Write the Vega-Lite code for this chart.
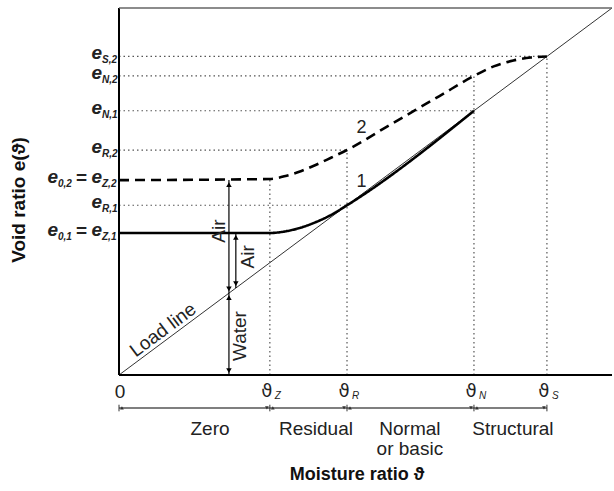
{
  "$schema": "https://vega.github.io/schema/vega-lite/v6.json",
  "width": 493,
  "height": 367,
  "autosize": "none",
  "padding": {"left": 119, "top": 8, "right": 2, "bottom": 116},
  "background": "white",
  "config": {"view": {"stroke": null}, "font": "Liberation Sans, DejaVu Sans"},
  "datasets": {
    "curves": [
      {"curve": "1", "x": 0, "y": 0.387},
      {"curve": "1", "x": 0.306, "y": 0.387},
      {"curve": "1", "x": 0.34, "y": 0.392},
      {"curve": "1", "x": 0.37, "y": 0.402},
      {"curve": "1", "x": 0.40, "y": 0.417},
      {"curve": "1", "x": 0.43, "y": 0.436},
      {"curve": "1", "x": 0.4625, "y": 0.4625},
      {"curve": "1", "x": 0.72, "y": 0.72},
      {"curve": "2", "x": 0, "y": 0.531},
      {"curve": "2", "x": 0.306, "y": 0.534},
      {"curve": "2", "x": 0.34, "y": 0.543},
      {"curve": "2", "x": 0.37, "y": 0.556},
      {"curve": "2", "x": 0.40, "y": 0.573},
      {"curve": "2", "x": 0.43, "y": 0.592},
      {"curve": "2", "x": 0.4625, "y": 0.613},
      {"curve": "2", "x": 0.55, "y": 0.682},
      {"curve": "2", "x": 0.65, "y": 0.760},
      {"curve": "2", "x": 0.72, "y": 0.815},
      {"curve": "2", "x": 0.76, "y": 0.841},
      {"curve": "2", "x": 0.80, "y": 0.857},
      {"curve": "2", "x": 0.835, "y": 0.865},
      {"curve": "2", "x": 0.868, "y": 0.868}
    ],
    "load": [{"x": 0, "y": 0}, {"x": 1, "y": 1}],
    "guides": [
      {"x": 0, "x2": 0.868, "y": 0.868, "y2": 0.868},
      {"x": 0, "x2": 0.72, "y": 0.815, "y2": 0.815},
      {"x": 0, "x2": 0.72, "y": 0.72, "y2": 0.72},
      {"x": 0, "x2": 0.4625, "y": 0.613, "y2": 0.613},
      {"x": 0, "x2": 0.4625, "y": 0.4625, "y2": 0.4625},
      {"x": 0.306, "x2": 0.306, "y": 0, "y2": 0.534},
      {"x": 0.4625, "x2": 0.4625, "y": 0, "y2": 0.613},
      {"x": 0.72, "x2": 0.72, "y": 0, "y2": 0.815},
      {"x": 0.868, "x2": 0.868, "y": 0, "y2": 0.868}
    ],
    "frame": [
      {"x": 0, "x2": 0, "y": 0, "y2": 1},
      {"x": 0, "x2": 1, "y": 0, "y2": 0}
    ],
    "topline": [{"x": 0, "x2": 1, "y": 1, "y2": 1}],
    "arrows": [
      {"x": 0.223, "y": 0, "y2": 0.531},
      {"x": 0.237, "y": 0.237, "y2": 0.387}
    ],
    "heads": [
      {"x": 0.223, "y": 0.519, "dir": "up"},
      {"x": 0.223, "y": 0.235, "dir": "down"},
      {"x": 0.223, "y": 0.211, "dir": "up"},
      {"x": 0.223, "y": 0.012, "dir": "down"},
      {"x": 0.237, "y": 0.375, "dir": "up"},
      {"x": 0.237, "y": 0.249, "dir": "down"}
    ],
    "rangebar": [{"x": 0, "x2": 0.868, "y": -0.0899}],
    "bounds": [
      {"x": 0, "y": -0.081, "y2": -0.099},
      {"x": 0.306, "y": -0.081, "y2": -0.099},
      {"x": 0.4625, "y": -0.081, "y2": -0.099},
      {"x": 0.72, "y": -0.081, "y2": -0.099},
      {"x": 0.868, "y": -0.081, "y2": -0.099}
    ],
    "rangeheads": [
      {"x": 0.006, "y": -0.0899, "dir": "left"},
      {"x": 0.300, "y": -0.0899, "dir": "right"},
      {"x": 0.312, "y": -0.0899, "dir": "left"},
      {"x": 0.4565, "y": -0.0899, "dir": "right"},
      {"x": 0.4685, "y": -0.0899, "dir": "left"},
      {"x": 0.714, "y": -0.0899, "dir": "right"},
      {"x": 0.726, "y": -0.0899, "dir": "left"},
      {"x": 0.862, "y": -0.0899, "dir": "right"}
    ],
    "ylabels": [
      {"x": 0, "y": 0.868, "sub": "S,2"},
      {"x": 0, "y": 0.815, "sub": "N,2"},
      {"x": 0, "y": 0.72, "sub": "N,1"},
      {"x": 0, "y": 0.613, "sub": "R,2"},
      {"x": 0, "y": 0.531, "sub": "Z,2"},
      {"x": 0, "y": 0.4625, "sub": "R,1"},
      {"x": 0, "y": 0.387, "sub": "Z,1"}
    ],
    "prefix": [
      {"x": 0, "y": 0.531, "sub": "0,2"},
      {"x": 0, "y": 0.387, "sub": "0,1"}
    ],
    "xticks": [
      {"x": 0.306, "y": -0.046, "sub": "Z"},
      {"x": 0.4625, "y": -0.046, "sub": "R"},
      {"x": 0.72, "y": -0.046, "sub": "N"},
      {"x": 0.868, "y": -0.046, "sub": "S"}
    ],
    "zero": [{"x": 0, "y": -0.046, "label": "0"}],
    "regions": [
      {"x": 0.1846, "y": -0.1635, "label": "Zero"},
      {"x": 0.3996, "y": -0.1635, "label": "Residual"},
      {"x": 0.590, "y": -0.1635, "label": "Normal\nor basic"},
      {"x": 0.799, "y": -0.1635, "label": "Structural"}
    ],
    "curvelabels": [
      {"x": 0.492, "y": 0.527, "label": "1"},
      {"x": 0.492, "y": 0.672, "label": "2"}
    ],
    "vertlabels": [
      {"x": 0.203, "y": 0.392, "label": "Air"},
      {"x": 0.262, "y": 0.322, "label": "Air"},
      {"x": 0.245, "y": 0.106, "label": "Water"}
    ],
    "loadlabel": [{"x": 0.0892, "y": 0.1226, "label": "Load line"}],
    "ytitle": [{"x": -0.2028, "y": 0.477, "label": "Void ratio e(ϑ)"}],
    "xtitle": [{"x": 0.4828, "y": -0.2725, "label": "Moisture ratio ϑ"}]
  },
  "encoding": {
    "x": {"field": "x", "type": "quantitative", "scale": {"domain": [0, 1], "nice": false, "zero": false}, "axis": null},
    "y": {"field": "y", "type": "quantitative", "scale": {"domain": [0, 1], "nice": false, "zero": false}, "axis": null}
  },
  "layer": [
    {
      "data": {"name": "guides"},
      "mark": {"type": "rule", "color": "#555", "strokeWidth": 1.2, "strokeDash": [1.5, 3]},
      "encoding": {"x2": {"field": "x2"}, "y2": {"field": "y2"}}
    },
    {
      "data": {"name": "load"},
      "mark": {"type": "line", "color": "#333", "strokeWidth": 1},
      "encoding": {}
    },
    {
      "data": {"name": "frame"},
      "mark": {"type": "rule", "color": "black", "strokeWidth": 2},
      "encoding": {"x2": {"field": "x2"}, "y2": {"field": "y2"}}
    },
    {
      "data": {"name": "topline"},
      "mark": {"type": "rule", "color": "#666", "strokeWidth": 1.5},
      "encoding": {"x2": {"field": "x2"}, "y2": {"field": "y2"}}
    },
    {
      "data": {"name": "curves"},
      "mark": {"type": "line", "color": "black", "strokeWidth": 2.6, "interpolate": "monotone"},
      "encoding": {
        "detail": {"field": "curve"},
        "strokeDash": {"field": "curve", "type": "nominal", "scale": {"domain": ["1", "2"], "range": [[1, 0], [10, 6]]}, "legend": null}
      }
    },
    {
      "data": {"name": "arrows"},
      "mark": {"type": "rule", "color": "black", "strokeWidth": 1.2},
      "encoding": {"y2": {"field": "y2"}}
    },
    {
      "data": {"name": "heads"},
      "mark": {"type": "point", "filled": true, "color": "black", "size": 30, "opacity": 1},
      "encoding": {
        "shape": {"field": "dir", "type": "nominal", "scale": {"domain": ["up", "down"], "range": ["triangle-up", "triangle-down"]}, "legend": null}
      }
    },
    {
      "data": {"name": "rangebar"},
      "mark": {"type": "rule", "color": "#555", "strokeWidth": 1.5},
      "encoding": {"x2": {"field": "x2"}}
    },
    {
      "data": {"name": "bounds"},
      "mark": {"type": "rule", "color": "#333", "strokeWidth": 1},
      "encoding": {"y2": {"field": "y2"}}
    },
    {
      "data": {"name": "rangeheads"},
      "mark": {"type": "point", "filled": true, "color": "#333", "size": 14, "opacity": 1},
      "encoding": {
        "shape": {"field": "dir", "type": "nominal", "scale": {"domain": ["left", "right"], "range": ["triangle-left", "triangle-right"]}, "legend": null}
      }
    },
    {
      "data": {"name": "ylabels"},
      "mark": {"type": "text", "text": "e", "align": "right", "baseline": "middle", "dx": -17, "dy": -3, "fontSize": 19, "fontStyle": "italic", "fontWeight": "bold", "color": "#222"},
      "encoding": {}
    },
    {
      "data": {"name": "ylabels"},
      "mark": {"type": "text", "align": "left", "baseline": "middle", "dx": -17, "dy": 4, "fontSize": 10, "fontStyle": "italic", "fontWeight": "bold", "font": "Liberation Sans Narrow, Liberation Sans", "color": "#222"},
      "encoding": {"text": {"field": "sub"}}
    },
    {
      "data": {"name": "prefix"},
      "mark": {"type": "text", "text": "e", "align": "right", "baseline": "middle", "dx": -61, "dy": -3, "fontSize": 19, "fontStyle": "italic", "fontWeight": "bold", "color": "#222"},
      "encoding": {}
    },
    {
      "data": {"name": "prefix"},
      "mark": {"type": "text", "align": "left", "baseline": "middle", "dx": -61, "dy": 4, "fontSize": 10, "fontStyle": "italic", "fontWeight": "bold", "font": "Liberation Sans Narrow, Liberation Sans", "color": "#222"},
      "encoding": {"text": {"field": "sub"}}
    },
    {
      "data": {"name": "prefix"},
      "mark": {"type": "text", "text": "=", "align": "center", "baseline": "middle", "dx": -37.5, "dy": -2, "fontSize": 19, "fontWeight": "bold", "color": "#222"},
      "encoding": {}
    },
    {
      "data": {"name": "xticks"},
      "mark": {"type": "text", "text": "ϑ", "align": "center", "baseline": "middle", "dx": -3, "fontSize": 18, "font": "DejaVu Sans", "color": "#222"},
      "encoding": {}
    },
    {
      "data": {"name": "xticks"},
      "mark": {"type": "text", "align": "left", "baseline": "middle", "dx": 5, "dy": 4, "fontSize": 10, "fontStyle": "italic", "color": "#222"},
      "encoding": {"text": {"field": "sub"}}
    },
    {
      "data": {"name": "zero"},
      "mark": {"type": "text", "align": "center", "baseline": "middle", "dx": 1, "fontSize": 19, "color": "#222"},
      "encoding": {"text": {"field": "label"}}
    },
    {
      "data": {"name": "regions"},
      "mark": {"type": "text", "align": "center", "baseline": "alphabetic", "lineBreak": "\n", "lineHeight": 20, "fontSize": 19, "color": "#222"},
      "encoding": {"text": {"field": "label"}}
    },
    {
      "data": {"name": "curvelabels"},
      "mark": {"type": "text", "align": "center", "baseline": "middle", "fontSize": 18, "color": "#222"},
      "encoding": {"text": {"field": "label"}}
    },
    {
      "data": {"name": "vertlabels"},
      "mark": {"type": "text", "align": "center", "baseline": "middle", "angle": 270, "fontSize": 19, "color": "#222"},
      "encoding": {"text": {"field": "label"}}
    },
    {
      "data": {"name": "loadlabel"},
      "mark": {"type": "text", "align": "center", "baseline": "middle", "angle": 323.3, "fontSize": 19, "color": "#222"},
      "encoding": {"text": {"field": "label"}}
    },
    {
      "data": {"name": "ytitle"},
      "mark": {"type": "text", "align": "center", "baseline": "middle", "angle": 270, "fontSize": 19, "fontWeight": "bold", "color": "#111"},
      "encoding": {"text": {"field": "label"}}
    },
    {
      "data": {"name": "xtitle"},
      "mark": {"type": "text", "align": "center", "baseline": "middle", "fontSize": 18, "fontWeight": "bold", "color": "#111"},
      "encoding": {"text": {"field": "label"}}
    }
  ]
}
